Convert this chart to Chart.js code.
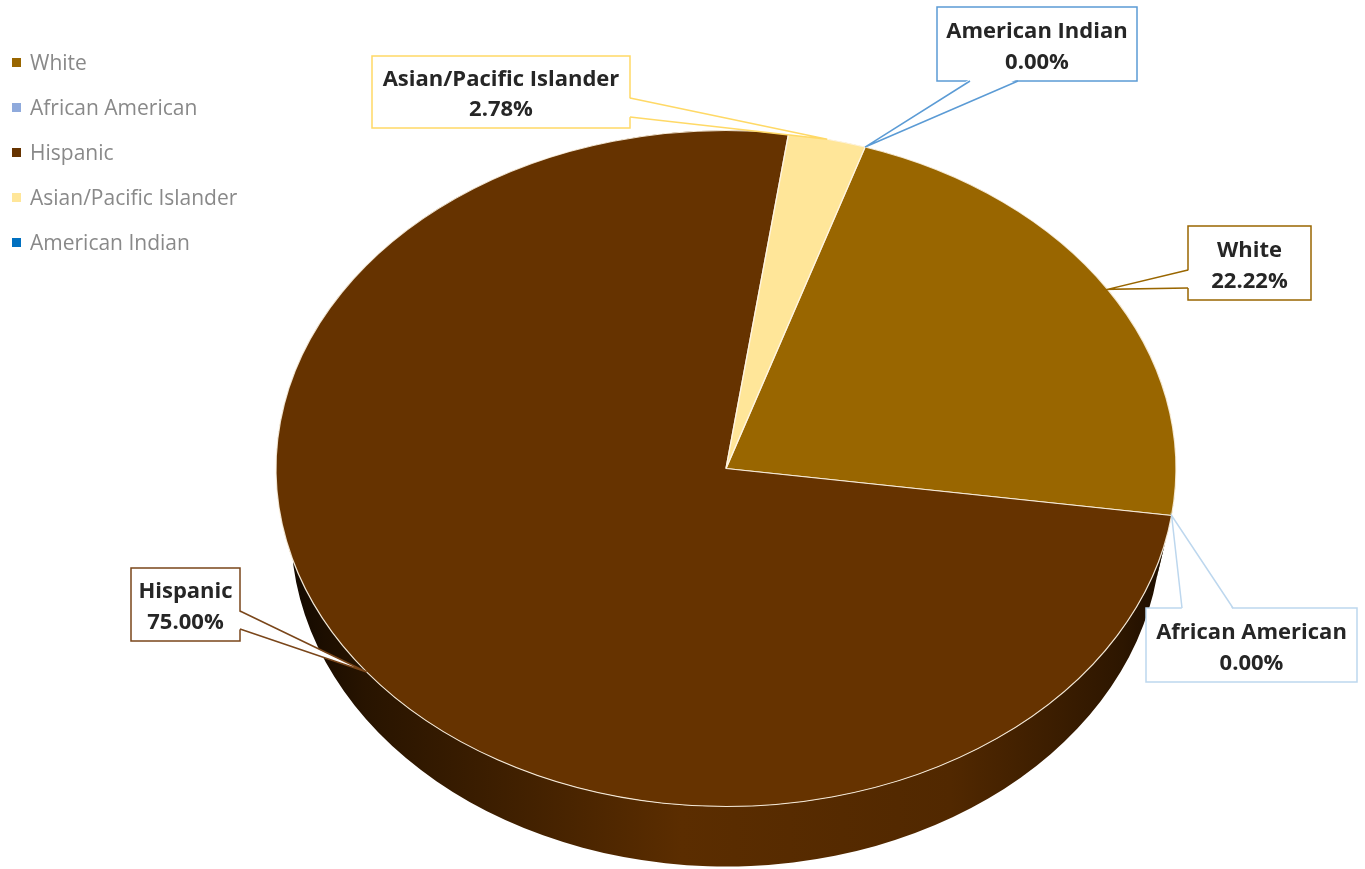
<!DOCTYPE html>
<html>
<head>
<meta charset="utf-8">
<title>Ethnicity</title>
<script src="https://cdn.jsdelivr.net/npm/chart.js@4.4.1/dist/chart.umd.min.js"></script>
<style>
  html, body { margin: 0; padding: 0; background: #fff; }
  #wrap { position: relative; width: 1365px; height: 869px; }
  #legend { position: absolute; left: 0; top: 0; font-family: 'Open Sans', sans-serif; font-size: 21px; color: #898989; }
  #legend .item { position: absolute; left: 12px; height: 26px; display: flex; align-items: center; white-space: nowrap; }
  #legend .swatch { width: 9px; height: 9px; margin-right: 9px; }
</style>
</head>
<body>
<div id="wrap">
  <canvas id="pie"></canvas>
  <div id="legend"></div>
</div>
<script>
// shares in percent, in legend order
const labels = ['White', 'African American', 'Hispanic', 'Asian/Pacific Islander', 'American Indian'];
const shares = [22.22, 0, 75.00, 2.78, 0];
const colors = ['#996600', '#8faadc', '#663300', '#ffe699', '#0070c0'];
const calloutColors = ['#996600', '#bdd7ee', '#7a461a', '#ffd966', '#5b9bd5'];

// callout boxes: rect, side the pointer leaves from, and the two pointer roots
const callouts = [
  { x: 1188, y: 226, w: 123, h: 74, side: 'left',   a: [[1188, 270], [1188, 288]] },
  { x: 1146, y: 608, w: 211, h: 74, side: 'top',    a: [[1182, 608], [1233, 608]] },
  { x: 131,  y: 568, w: 109, h: 73, side: 'right',  a: [[240, 611], [240, 629]] },
  { x: 372,  y: 56,  w: 258, h: 72, side: 'right',  a: [[630, 98], [630, 117]] },
  { x: 937,  y: 7,   w: 200, h: 74, side: 'bottom', a: [[970, 81], [1018, 81]] },
];

const TILT = 450 / 338;   // horizontal stretch of the disc
const DEPTH = 62;         // thickness of the pie
const INWARD = { left: [1, 0], right: [-1, 0], top: [0, 1], bottom: [0, -1] };

function shade(hex, k) {
  const n = parseInt(hex.slice(1), 16);
  const r = ((n >> 16) & 255) * k, g = ((n >> 8) & 255) * k, b = (n & 255) * k;
  return `rgb(${r | 0},${g | 0},${b | 0})`;
}

// legend
const legendEl = document.getElementById('legend');
labels.forEach((name, i) => {
  const item = document.createElement('div');
  item.className = 'item';
  item.style.top = (49 + i * 45) + 'px';
  item.innerHTML = `<span class="swatch" style="background:${colors[i]}"></span><span>${name}</span>`;
  legendEl.appendChild(item);
});

function drawCallouts(chart) {
  const ctx = chart.ctx;
  const arcs = chart.getDatasetMeta(0).data;
  const total = shares.reduce((s, v) => s + v, 0);

  arcs.forEach((arc, i) => {
    const c = callouts[i];
    const mid = (arc.startAngle + arc.endAngle) / 2;
    const tip = [arc.x + Math.cos(mid) * arc.outerRadius * TILT, arc.y + Math.sin(mid) * arc.outerRadius];
    const [p1, p2] = c.a;
    const d = INWARD[c.side];

    ctx.save();
    ctx.lineWidth = 1.5;
    ctx.strokeStyle = calloutColors[i];
    ctx.fillStyle = '#fff';
    ctx.fillRect(c.x, c.y, c.w, c.h);
    ctx.strokeRect(c.x, c.y, c.w, c.h);

    // pointer wedge, opens a gap in the box border
    ctx.beginPath();
    ctx.moveTo(p1[0] + d[0] * 2, p1[1] + d[1] * 2);
    ctx.lineTo(tip[0], tip[1]);
    ctx.lineTo(p2[0] + d[0] * 2, p2[1] + d[1] * 2);
    ctx.closePath();
    ctx.fill();
    ctx.beginPath();
    ctx.moveTo(p1[0], p1[1]);
    ctx.lineTo(tip[0], tip[1]);
    ctx.lineTo(p2[0], p2[1]);
    ctx.stroke();

    ctx.fillStyle = '#262626';
    ctx.font = "bold 22px 'Open Sans', sans-serif";
    ctx.textAlign = 'center';
    ctx.textBaseline = 'middle';
    const tx = c.x + c.w / 2;
    ctx.fillText(labels[i], tx, c.y + c.h * 0.33);
    ctx.fillText((shares[i] / total * 100).toFixed(2) + '%', tx, c.y + c.h * 0.75);
    ctx.restore();
  });
}

const pie3d = {
  id: 'pie3d',
  beforeDatasetsDraw(chart) {
    const ctx = chart.ctx;
    const arcs = chart.getDatasetMeta(0).data;
    const { x: cx, y: cy, outerRadius: r } = arcs[0];
    const rx = r * TILT, ry = r;
    const rx2 = rx - 15, ry2 = ry - 2;

    // side walls, drawn under the top face
    arcs.forEach((arc, i) => {
      if (arc.endAngle - arc.startAngle <= 0) return;
      const g = ctx.createLinearGradient(cx - rx, 0, cx + rx, 0);
      [[0, 0.15], [0.1, 0.4], [0.45, 0.9], [0.75, 0.8], [0.94, 0.45], [1, 0.25]]
        .forEach(([p, k]) => g.addColorStop(p, shade(colors[i], k)));
      ctx.beginPath();
      ctx.ellipse(cx, cy, rx, ry, 0, arc.startAngle, arc.endAngle);
      ctx.ellipse(cx, cy + DEPTH, rx2, ry2, 0, arc.endAngle, arc.startAngle, true);
      ctx.closePath();
      ctx.fillStyle = g;
      ctx.fill();
    });

    // stretch the disc into an ellipse
    ctx.save();
    ctx.translate(cx, cy);
    ctx.scale(TILT, 1);
    ctx.translate(-cx, -cy);
  },
  afterDatasetsDraw(chart) {
    chart.ctx.restore();
    drawCallouts(chart);
  }
};

new Chart(document.getElementById('pie'), {
  type: 'pie',
  data: {
    labels: labels,
    datasets: [{
      data: shares,
      backgroundColor: colors,
      borderColor: 'rgba(255,246,230,0.9)',
      borderWidth: 1,
    }],
  },
  options: {
    responsive: true,
    maintainAspectRatio: false,
    animation: false,
    events: [],
    rotation: 18,
    layout: { padding: { top: 130, bottom: 62, left: 87, right: 0 } },
    plugins: {
      legend: { display: false },
      tooltip: { enabled: false },
    },
  },
  plugins: [pie3d],
});
</script>
</body>
</html>
